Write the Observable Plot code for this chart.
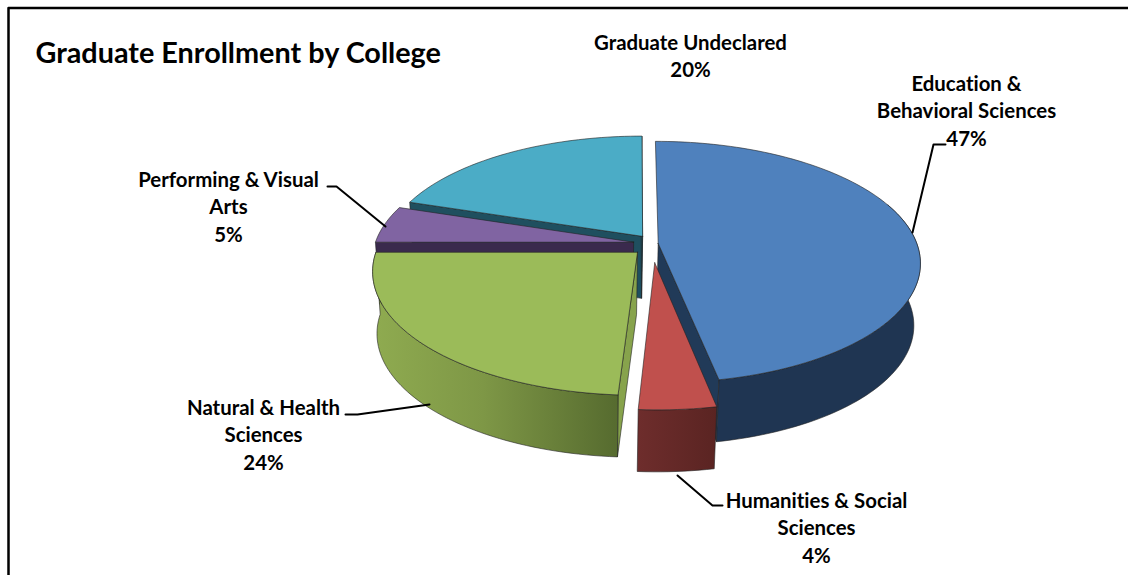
<!DOCTYPE html>
<html><head><meta charset="utf-8">
<script src="https://cdn.jsdelivr.net/npm/d3@7"></script>
<script src="https://cdn.jsdelivr.net/npm/@observablehq/plot@0.6"></script>
<style>html,body{margin:0;padding:0;background:#fff}svg{display:block}svg text{font-variant-ligatures:none}</style>
</head><body><div id="chart"></div>
<script>
const categories = ["Education & Behavioral Sciences","Humanities & Social Sciences","Natural & Health Sciences","Performing & Visual Arts","Graduate Undeclared"];
const shares = [47,4,24,5,20];
const labels = ["Education &\nBehavioral Sciences\n47%","Humanities & Social\nSciences\n4%","Natural & Health\nSciences\n24%","Performing & Visual\nArts\n5%","Graduate Undeclared\n20%"];
const topColors = ["#4f81bd","#c0504d","#9bbb59","#8064a2","#4bacc6"];
const wallFills = ["#1f3552","url(#wallRed)","url(#wallGreen)","#3a2a4d","#1f4f5f"];
const radialFills = ["#213a58","#6b2b2b","#87a34c","#3a2a4d","#1f4f5f"];
const explodeU = [0.08,0.065,0,-0.015,0.02];
const explodeV = [-0.06,0.1,0.015,-0.07,-0.12];
const labelX = [966,816,263,228,690];
const labelY = [109,526,433,205,54];
const leaders = [
  [[945,144],[933,144],[912,232]],
  [[677,475],[712,505],[722,505]],
  [[345,414],[357,414],[429,404]],
  [[327,186],[336,186],[385,226]]
];
const CX=637, CY=250, RX=261, RY=120, K=0.156, DEPTH=62, SHRINK=0.98, SHRINK_X=590;
const rad=d=>d*Math.PI/180;
function project(u,v,bottom){
  const s=1/(1-K*v);
  const x=CX+RX*u*s, y=CY+RY*v*s;
  return bottom?[SHRINK_X+(x-SHRINK_X)*SHRINK,y+DEPTH]:[x,y];
}
let cum=0;
const slices=shares.map((p,i)=>{const a0=cum*3.6;cum+=p;const a1=cum*3.6;return {i,a0,a1,u0:explodeU[i],v0:explodeV[i]};});
function rimPoint(s,a,b){return project(s.u0+Math.sin(rad(a)),s.v0-Math.cos(rad(a)),b);}
function arc(s,from,to,b){const n=Math.max(4,Math.round(Math.abs(to-from)/1.5));return d3.range(n+1).map(k=>rimPoint(s,from+(to-from)*k/n,b));}
function apex(s,b){return project(s.u0,s.v0,b);}
const polys=[];
let pid=0;
function add(pts,fill,stroke="#222",sw=.6){pid++;pts.forEach(p=>polys.push({x:p[0],y:p[1],id:pid,fill,stroke,sw}));polys.push({x:pts[0][0],y:pts[0][1],id:pid,fill,stroke,sw});}
function radial(s,a){add([apex(s,false),rimPoint(s,a,false),rimPoint(s,a,true),apex(s,true)],radialFills[s.i]);}
function wall(s,from,to){add([...arc(s,from,to,false),...arc(s,to,from,true)],wallFills[s.i]);}
function topFace(s){add([apex(s,false),...arc(s,s.a0,s.a1,false)],topColors[s.i]);}
const [edu,hum,nat,perf,und]=slices;
// back-to-front painting order: only faces turned towards the viewer
radial(und,und.a0);radial(und,und.a1);topFace(und);
radial(perf,perf.a0);topFace(perf);
radial(edu,edu.a1);wall(edu,70,edu.a1);topFace(edu);
radial(nat,nat.a0);wall(nat,nat.a0,nat.a1);topFace(nat);
wall(hum,hum.a0,hum.a1);topFace(hum);

const defs=()=>{
  const ns="http://www.w3.org/2000/svg";
  const d=document.createElementNS(ns,"defs");
  d.innerHTML=`<linearGradient id="wallGreen" x1="0" x2="1" y1="0" y2="0">
    <stop offset="0" stop-color="#8fab50"/><stop offset=".45" stop-color="#7e9746"/><stop offset="1" stop-color="#566b2f"/></linearGradient>
    <linearGradient id="wallRed" x1="0" x2="1" y1="0" y2="0"><stop offset="0" stop-color="#6e2d2c"/><stop offset="1" stop-color="#5a2422"/></linearGradient>`;
  return d;
};
const font="Lato, Carlito, sans-serif";
const plot=Plot.plot({
  width:1128,height:575,margin:0,
  x:{domain:[0,1128],range:[0,1128],axis:null},
  y:{domain:[0,575],range:[0,575],axis:null},
  style:{background:"#fff",fontFamily:font},
  marks:[
    defs,
    Plot.line(polys,{x:"x",y:"y",z:"id",fill:d=>d.fill,stroke:d=>d.stroke,strokeWidth:d=>d.sw,curve:"linear",strokeLinejoin:"round"}),
    ...leaders.map(l=>Plot.line(l,{x:d=>d[0],y:d=>d[1],stroke:"#000",strokeWidth:2,curve:"linear"})),
    Plot.text(labels.map((t,i)=>({t,x:labelX[i],y:labelY[i]})),{x:"x",y:"y",text:"t",fontWeight:"bold",fontSize:20.4,lineHeight:1.35,fill:"#000",lineAnchor:"middle",textAnchor:"middle"}),
    Plot.text(["Graduate Enrollment by College"],{x:[35],y:[53],text:d=>d,fontWeight:"bold",fontSize:28.8,fill:"#000",textAnchor:"start",lineAnchor:"middle"}),
    Plot.line([[8,580],[8,7.5],[1130,7.5]],{x:d=>d[0],y:d=>d[1],stroke:"#000",strokeWidth:2.5,curve:"linear"})
  ]
});
document.getElementById("chart").append(plot);
</script></body></html>
